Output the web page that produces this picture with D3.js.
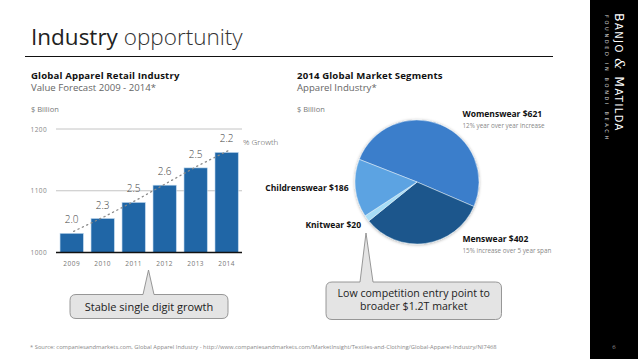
<!DOCTYPE html>
<html>
<head>
<meta charset="utf-8">
<script src="https://cdn.jsdelivr.net/npm/d3@7"></script>
<style>
  html, body { margin: 0; padding: 0; background: #fff; }
  svg { display: block; font-family: "Open Sans", "Noto Sans", sans-serif; }
</style>
</head>
<body>
<svg id="chart" width="638" height="359"></svg>
<script>
// ---------- data ----------
const years = ["2009", "2010", "2011", "2012", "2013", "2014"];
const retailValues = [1031, 1055, 1081, 1109, 1137, 1162];
const growthLabels = ["2.0", "2.3", "2.5", "2.6", "2.5", "2.2"];
const yTicks = [1000, 1100, 1200];

const segmentNames = ["Womenswear", "Menswear", "Knitwear", "Childrenswear"];
const segmentValues = [621, 402, 20, 186];
const segmentNotes = ["12% year over year increase", "15% increase over 5 year span", "", ""];
const segmentColors = ["#3b7ecb", "#1a578c", "#a7ddf6", "#5ba3e2"];

const svg = d3.select("#chart");

// ---------- right brand bar ----------
svg.append("rect").attr("x", 590).attr("y", 0).attr("width", 48).attr("height", 359).attr("fill", "#000");
const brand = svg.append("text").attr("transform", "translate(615,13) rotate(90)")
  .attr("fill", "#fff").attr("font-family", "'DejaVu Sans', sans-serif").attr("letter-spacing", 1.4);
brand.append("tspan").attr("font-size", 12.5).text("B");
brand.append("tspan").attr("font-size", 10).text("ANJO ");
brand.append("tspan").attr("font-size", 12.5).attr("font-family", "'DejaVu Serif', serif").attr("font-style", "italic").text("&");
brand.append("tspan").attr("font-size", 12.5).text(" M");
brand.append("tspan").attr("font-size", 10).text("ATILDA");
svg.append("text").attr("transform", "translate(605,15) rotate(90)")
  .attr("fill", "#ddd").attr("font-size", 5).attr("letter-spacing", 2.65)
  .attr("font-family", "'DejaVu Sans', sans-serif").text("FOUNDED IN BONDI BEACH");
svg.append("text").attr("x", 614).attr("y", 349).attr("font-size", 6).attr("fill", "#999")
  .attr("text-anchor", "middle").text("6");

// ---------- title ----------
const title = svg.append("text").attr("x", 31).attr("y", 45).attr("font-size", 22.5).attr("fill", "#222");
title.append("tspan").attr("font-weight", 400).text("Industry ");
title.append("tspan").attr("font-weight", 300).attr("fill", "#333").text("opportunity");
svg.append("line").attr("x1", 25).attr("x2", 553).attr("y1", 56.5).attr("y2", 56.5)
  .attr("stroke", "#111").attr("stroke-width", 1.2);

// ---------- left headings ----------
svg.append("text").attr("x", 31).attr("y", 78.5).attr("font-size", 9.6).attr("font-weight", 700)
  .attr("letter-spacing", 0.15).attr("fill", "#111").text("Global Apparel Retail Industry");
svg.append("text").attr("x", 31).attr("y", 90.5).attr("font-size", 9.6).attr("fill", "#666")
  .text("Value Forecast 2009 - 2014*");
svg.append("text").attr("x", 31).attr("y", 111.5).attr("font-size", 7.5).attr("fill", "#777")
  .text("$ Billion");

// ---------- bar chart ----------
const x = d3.scaleBand().domain(years).range([55.4, 242.9]).paddingInner(0.25).paddingOuter(0.15);
const y = d3.scaleLinear().domain([1000, 1200]).range([252.5, 129]);

const grid = svg.append("g");
grid.selectAll("line").data(yTicks.filter(t => t > 1000)).join("line")
  .attr("x1", 56).attr("x2", 242).attr("y1", d => y(d)).attr("y2", d => y(d))
  .attr("stroke", "#b5b5b5").attr("stroke-width", 0.8);

const yAxis = svg.append("g").attr("transform", "translate(47,0)")
  .call(d3.axisLeft(y).tickValues(yTicks).tickSize(0).tickPadding(0).tickFormat(d3.format("d")));
yAxis.select(".domain").remove();
yAxis.selectAll("text").attr("font-size", 6.5).attr("fill", "#888").attr("font-family", "'Open Sans', sans-serif")
  .attr("letter-spacing", 0.4);

const data = years.map((yr, i) => ({ yr, v: retailValues[i], g: growthLabels[i] }));

svg.append("g").selectAll("rect").data(data).join("rect")
  .attr("x", d => x(d.yr)).attr("width", x.bandwidth())
  .attr("y", d => y(d.v)).attr("height", d => y(1000) - y(d.v))
  .attr("fill", "#2066a6").attr("stroke", "#b9d4ec").attr("stroke-width", 0.6);

// trend line (dotted)
svg.append("path").datum(data)
  .attr("d", d3.line().x(d => x(d.yr) + x.bandwidth() / 2 + 2).y(d => y(d.v) - 2))
  .attr("fill", "none").attr("stroke", "#8a8a8a").attr("stroke-width", 1.3)
  .attr("stroke-dasharray", "1.2,3.6").attr("stroke-linecap", "round");

svg.append("line").attr("x1", 56).attr("x2", 242).attr("y1", y(1000)).attr("y2", y(1000))
  .attr("stroke", "#111").attr("stroke-width", 1.3);

const xAxis = svg.append("g").attr("transform", `translate(0,${y(1000)})`)
  .call(d3.axisBottom(x).tickSize(0).tickPadding(8.5));
xAxis.select(".domain").remove();
xAxis.selectAll("text").attr("font-size", 6.5).attr("fill", "#777").attr("font-family", "'Open Sans', sans-serif")
  .attr("letter-spacing", 0.5);

svg.append("g").selectAll("text").data(data).join("text")
  .attr("x", d => x(d.yr) + x.bandwidth() / 2).attr("y", d => y(d.v) - 10)
  .attr("text-anchor", "middle").attr("font-size", 10).attr("font-weight", 300).attr("fill", "#444")
  .text(d => d.g);
svg.append("text").attr("x", 243).attr("y", 144.5).attr("font-size", 8).attr("fill", "#555")
  .attr("font-weight", 300).text("% Growth");

// ---------- right headings ----------
svg.append("text").attr("x", 297).attr("y", 78.5).attr("font-size", 9.6).attr("font-weight", 700)
  .attr("letter-spacing", 0.15).attr("fill", "#111").text("2014 Global Market Segments");
svg.append("text").attr("x", 297).attr("y", 90.5).attr("font-size", 9.6).attr("fill", "#666")
  .text("Apparel Industry*");
svg.append("text").attr("x", 297).attr("y", 111.5).attr("font-size", 7.5).attr("fill", "#777")
  .text("$ Billion");

// ---------- pie ----------
const defs = svg.append("defs");
const f = defs.append("filter").attr("id", "shadow").attr("x", "-20%").attr("y", "-20%").attr("width", "140%").attr("height", "140%");
f.append("feDropShadow").attr("dx", 0).attr("dy", 0.5).attr("stdDeviation", 1.6)
  .attr("flood-color", "#000").attr("flood-opacity", 0.35);

const segs = segmentNames.map((n, i) => ({ n, v: segmentValues[i], c: segmentColors[i] }));
const start = -68.6 * Math.PI / 180;
const pie = d3.pie().sort(null).value(d => d.v).startAngle(start).endAngle(start + 2 * Math.PI);
const arc = d3.arc().innerRadius(0).outerRadius(62);
const pg = svg.append("g").attr("transform", "translate(417,182)");
pg.append("g").attr("filter", "url(#shadow)").selectAll("path").data(pie(segs)).join("path")
  .attr("d", arc).attr("fill", d => d.data.c).attr("stroke", "#e8f2fb").attr("stroke-width", 0.5);

// pie labels
function segLabel(xp, yp, anchor, name, value, note) {
  svg.append("text").attr("x", xp).attr("y", yp).attr("text-anchor", anchor)
    .attr("font-size", 8.5).attr("font-weight", 700).attr("fill", "#111")
    .text(`${name} $${value}`);
  if (note) {
    svg.append("text").attr("x", xp).attr("y", yp + 11).attr("text-anchor", anchor)
      .attr("font-size", 6.3).attr("fill", "#888").text(note);
  }
}
segLabel(462.5, 116.5, "start", segmentNames[0], segmentValues[0], segmentNotes[0]);
segLabel(462.5, 241.5, "start", segmentNames[1], segmentValues[1], segmentNotes[1]);
segLabel(361, 228, "end", segmentNames[2], segmentValues[2], segmentNotes[2]);
segLabel(348.5, 191, "end", segmentNames[3], segmentValues[3], segmentNotes[3]);

// ---------- callouts ----------
function callout(x0, y0, x1, y1, bx0, bx1, ax, ay, lines, ty, fs) {
  const r = 6;
  const p = `M${x0 + r},${y0} L${bx0},${y0} L${ax},${ay} L${bx1},${y0} L${x1 - r},${y0}
    Q${x1},${y0} ${x1},${y0 + r} L${x1},${y1 - r} Q${x1},${y1} ${x1 - r},${y1}
    L${x0 + r},${y1} Q${x0},${y1} ${x0},${y1 - r} L${x0},${y0 + r} Q${x0},${y0} ${x0 + r},${y0} Z`;
  svg.append("path").attr("d", p).attr("fill", "#e4e4e4").attr("stroke", "#8c8c8c").attr("stroke-width", 0.9);
  const cx = (x0 + x1) / 2;
  lines.forEach((t, i) => {
    svg.append("text").attr("x", cx).attr("y", ty + i * 13).attr("text-anchor", "middle")
      .attr("font-size", fs).attr("fill", "#222").text(t);
  });
}
callout(70, 294.5, 228, 318.5, 143, 154, 148.5, 270, ["Stable single digit growth"], 311, 11);
callout(326, 282, 501.5, 319.5, 360, 373, 366, 233, ["Low competition entry point to", "broader $1.2T market"], 296.5, 10.6);

// ---------- footnote ----------
svg.append("text").attr("x", 30).attr("y", 348.5).attr("font-size", 5.8).attr("fill", "#888")
  .text("* Source: companiesandmarkets.com, Global Apparel Industry - http://www.companiesandmarkets.com/MarketInsight/Textiles-and-Clothing/Global-Apparel-Industry/NI7468");
</script>
</body>
</html>
